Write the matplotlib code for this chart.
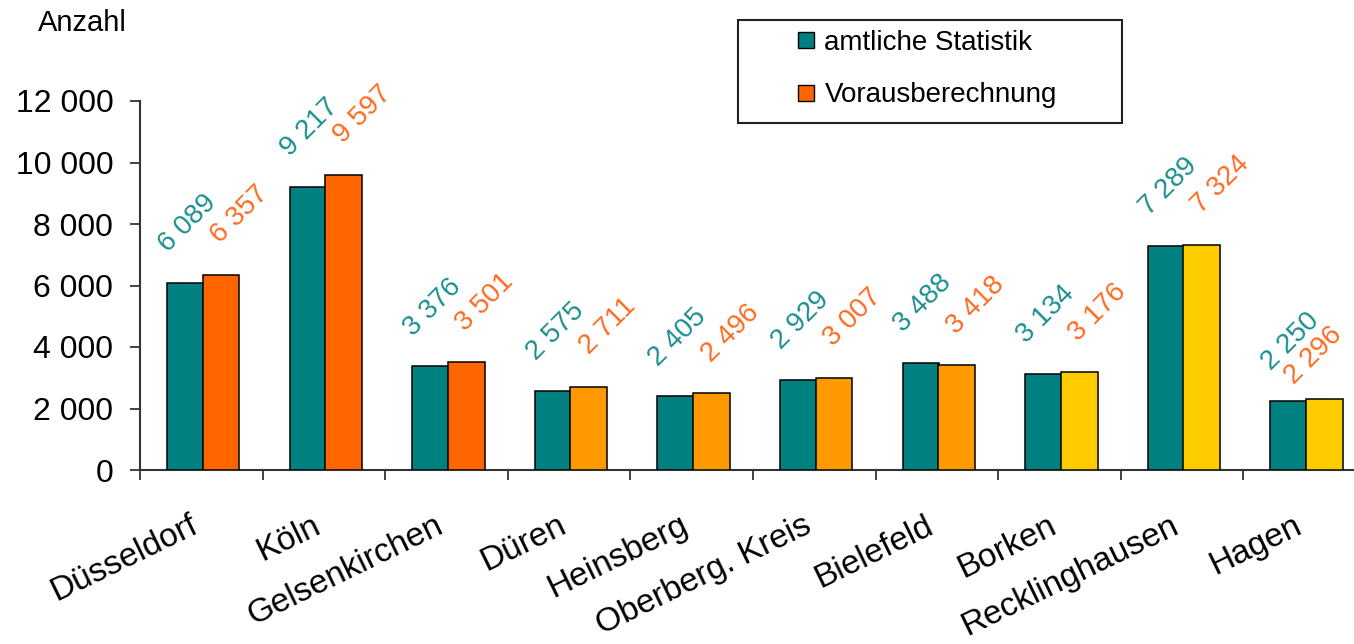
import matplotlib
matplotlib.use("Agg")
import matplotlib.pyplot as plt
from matplotlib.lines import Line2D
from matplotlib.patches import Rectangle
import numpy as np

categories = ["Düsseldorf", "Köln", "Gelsenkirchen", "Düren", "Heinsberg",
              "Oberberg. Kreis", "Bielefeld", "Borken", "Recklinghausen", "Hagen"]
amtlich = [6089, 9217, 3376, 2575, 2405, 2929, 3488, 3134, 7289, 2250]
voraus = [6357, 9597, 3501, 2711, 2496, 3007, 3418, 3176, 7324, 2296]
yticks = [0, 2000, 4000, 6000, 8000, 10000, 12000]
series_names = ["amtliche Statistik", "Vorausberechnung"]

TEAL = "#008080"
voraus_colors = ["#FF6600"] * 3 + ["#FF9900"] * 4 + ["#FFCC00"] * 3
TEAL_TXT = "#1a8f8f"
ORANGE_TXT = "#FF6A1F"

plt.rcParams['font.family'] = ['Liberation Sans', 'DejaVu Sans']

W, H = 1354, 644
fig = plt.figure(figsize=(W / 100, H / 100), dpi=100)
px = 0.72  # points per pixel

left, right = 140, 140 + 10 * 122.6
bottom, top = 470, 101
ax = fig.add_axes([left / W, 1 - bottom / H, (right - left) / W, (bottom - top) / H])

x = np.arange(len(categories))
bw = 0.3
ax.bar(x - 0.13, amtlich, width=bw, color=TEAL, edgecolor="black", linewidth=1.1, zorder=3)
ax.bar(x + 0.16, voraus, width=bw, color=voraus_colors, edgecolor="black", linewidth=1.1, zorder=3)

def fmt(v):
    return f"{v:,}".replace(",", " ")

ax.set_xlim(-0.5, len(categories) - 0.5)
ax.set_ylim(0, 12000)

labels = []
for i in range(len(categories)):
    labels.append(ax.annotate(fmt(amtlich[i]), xy=(x[i] - 0.13, amtlich[i]), xytext=(2 * px, 59 * px),
                textcoords="offset points", rotation=45, rotation_mode="anchor",
                ha="center", va="center", color=TEAL_TXT, fontsize=20))
    labels.append(ax.annotate(fmt(voraus[i]), xy=(x[i] + 0.16, voraus[i]), xytext=(19 * px, 60 * px),
                textcoords="offset points", rotation=45, rotation_mode="anchor",
                ha="center", va="center", color=ORANGE_TXT, fontsize=20))

ax.set_yticks(yticks)
ax.set_yticklabels([fmt(v) for v in yticks], fontsize=23)
ax.set_xticks(np.arange(len(categories) + 1) - 0.5)
ax.set_xticklabels([])
ax.tick_params(axis="both", direction="out", length=10 * px, width=1.3, color="#333333")
ax.tick_params(axis="y", pad=12)

for i, name in enumerate(categories):
    ax.annotate(name, xy=(x[i], 0), xycoords=("data", "axes fraction"),
                xytext=(-12 * px, -40 * px), textcoords="offset points",
                rotation=26, rotation_mode="anchor", ha="right", va="top",
                fontsize=24, color="black")

for s in ["top", "right"]:
    ax.spines[s].set_visible(False)
for s in ["left", "bottom"]:
    ax.spines[s].set_linewidth(1.5)
    ax.spines[s].set_color("#333333")

fig.text(38 / W, 1 - 23 / H, "Anzahl", fontsize=21, va="center", ha="left")

# legend frame
fig.patches.append(Rectangle((738 / W, 1 - 123 / H), (1122 - 738) / W, (123 - 20) / H,
                             transform=fig.transFigure, fill=False, edgecolor="#222222",
                             linewidth=1.5))
handles = [Line2D([], [], linestyle="none", marker="s", markersize=11,
                  markerfacecolor=TEAL, markeredgecolor="black", markeredgewidth=1),
           Line2D([], [], linestyle="none", marker="s", markersize=11,
                  markerfacecolor="#FF6600", markeredgecolor="black", markeredgewidth=1)]
fig.legend(handles, series_names, loc="upper left",
           bbox_to_anchor=(798 / W, 1 - 30 / H), frameon=False, fontsize=20,
           borderpad=0, borderaxespad=0, handlelength=0.6, handletextpad=0.35,
           labelspacing=0.95)

# keep value labels inside the figure (shift back along the diagonal if needed)
fig.canvas.draw()
renderer = fig.canvas.get_renderer()
for t in labels:
    bb = t.get_window_extent(renderer)
    over = bb.x1 - (W - 4)
    if over > 0:
        ox, oy = t.xyann
        t.xyann = (ox - over * px - 2, oy - over * px * 0.6)

fig.savefig("out.png", dpi=100)
